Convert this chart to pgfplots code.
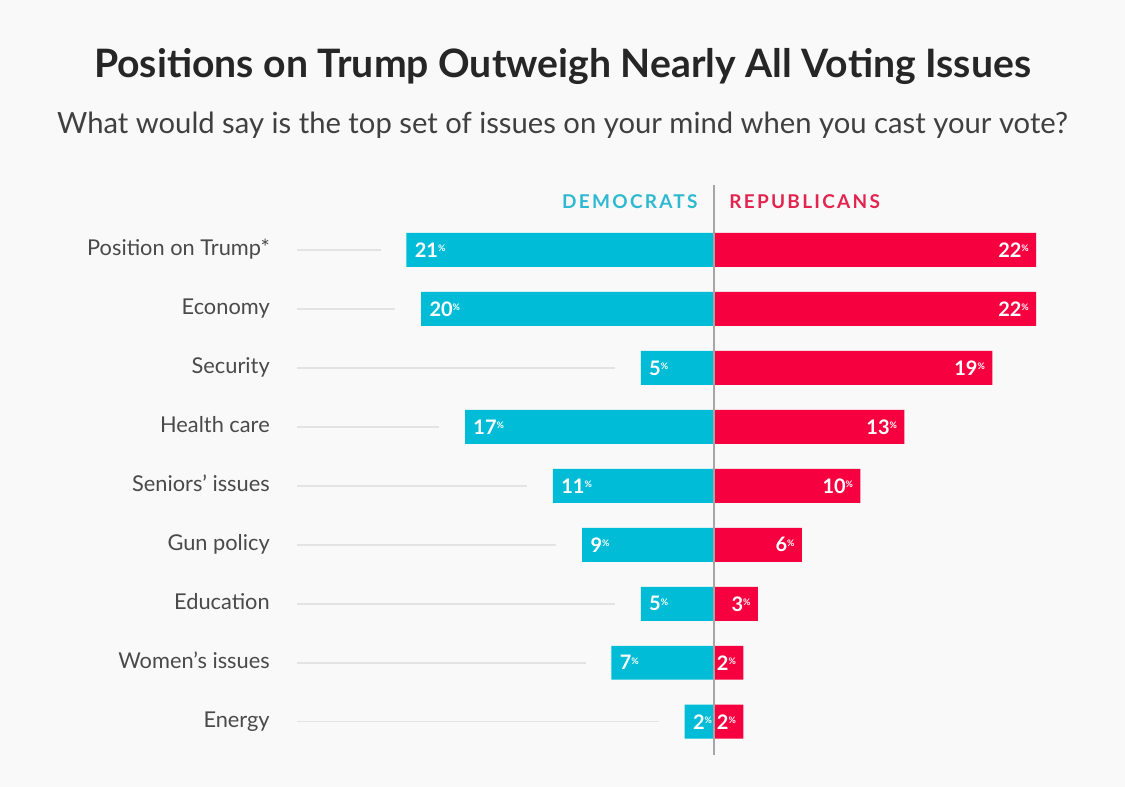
\documentclass[border=0pt]{standalone}
\usepackage{pgfplots}
\pgfplotsset{compat=1.18}
\usepackage{pgfplotstable}
\usepackage{fontspec}
\setmainfont{Lato}
\definecolor{demc}{HTML}{00BCD6}
\definecolor{repc}{HTML}{F7003F}
\definecolor{demh}{HTML}{2DB9D1}
\definecolor{reph}{HTML}{E2244F}
\definecolor{labc}{HTML}{4A4A4A}
\definecolor{bgc}{HTML}{F9F9F9}
\newcommand{\pct}{{\fontsize{4.5}{4.5}\selectfont\raisebox{2.8pt}{\%}}}

% row, Democrats, Republicans (percent)
\pgfplotstableread{
row dem rep
0 21 22
1 20 22
2 5 19
3 17 13
4 11 10
5 9 6
6 5 3
7 7 2
8 2 2
}\votes

\begin{document}
\begin{tikzpicture}
\begin{axis}[
width=562.5pt, height=393.5pt, scale only axis,
xmin=-48.74, xmax=28.05,
ymin=-9.102, ymax=4.237,
axis line style={draw=none},
axis background/.style={fill=bgc},
xtick=\empty,
ytick={-8,-7,...,0},
yticklabels={Energy,Women’s issues,Education,Gun policy,Seniors’ issues,Health care,Security,Economy,Position on Trump*},
major tick length=0pt,
yticklabel style={anchor=mid east, inner sep=0pt, xshift=135pt, yshift=-0.5pt, font=\fontsize{10.9}{12}\selectfont, text=labc},
/pgf/number format/assume math mode=true,
clip=false,
]
% guide lines
\addplot[color=black!11, line width=0.75pt, unbounded coords=jump] coordinates {
(-28.46,0)(-22.77,0) (nan,nan)
(-28.46,-1)(-21.77,-1) (nan,nan)
(-28.46,-2)(-6.77,-2) (nan,nan)
(-28.46,-3)(-18.77,-3) (nan,nan)
(-28.46,-4)(-12.77,-4) (nan,nan)
(-28.46,-5)(-10.77,-5) (nan,nan)
(-28.46,-6)(-6.77,-6) (nan,nan)
(-28.46,-7)(-8.77,-7) (nan,nan)
(-28.46,-8)(-3.77,-8)
};
% Democrats
\addplot[xbar, fill=demc, draw=none, bar width=17pt, bar shift=0pt,
  point meta=explicit,
  nodes near coords={\pgfmathprintnumber{\pgfplotspointmeta}\pct},
  every node near coord/.append style={anchor=west, xshift=4pt, inner sep=0pt, text=white, font=\fontsize{10}{10}\selectfont\bfseries}]
  table[x expr=-\thisrow{dem}, y expr=-\thisrow{row}, meta=dem] {\votes};
% Republicans
\addplot[xbar, fill=repc, draw=none, bar width=17pt, bar shift=0pt,
  point meta=explicit,
  nodes near coords={\pgfmathprintnumber{\pgfplotspointmeta}\pct},
  every node near coord/.append style={anchor=east, xshift=-3.5pt, inner sep=0pt, text=white, font=\fontsize{10}{10}\selectfont\bfseries}]
  table[x=rep, y expr=-\thisrow{row}, meta=rep] {\votes};
% centre line
\addplot[color=black!35, line width=0.7pt] coordinates {(0,1.10)(0,-8.56)};

\node[anchor=base, inner sep=0pt] at (axis description cs:0.5,0.902)
  {\resizebox{468.5pt}{!}{\bfseries\color{black!85}Positions on Trump Outweigh Nearly All Voting Issues}};
\node[anchor=base, inner sep=0pt] at (axis description cs:0.5,0.83)
  {\resizebox{505.5pt}{!}{\color{black!75}What would say is the top set of issues on your mind when you cast your vote?}};
\node[anchor=base east, inner sep=0pt, text=demh, font=\fontsize{9.5}{10}\selectfont\bfseries\addfontfeature{LetterSpace=12}] at (axis description cs:0.6204,0.7344) {DEMOCRATS};
\node[anchor=base west, inner sep=0pt, text=reph, font=\fontsize{9.5}{10}\selectfont\bfseries\addfontfeature{LetterSpace=12}] at (axis description cs:0.648,0.7344) {REPUBLICANS};
\end{axis}
\end{tikzpicture}
\end{document}
